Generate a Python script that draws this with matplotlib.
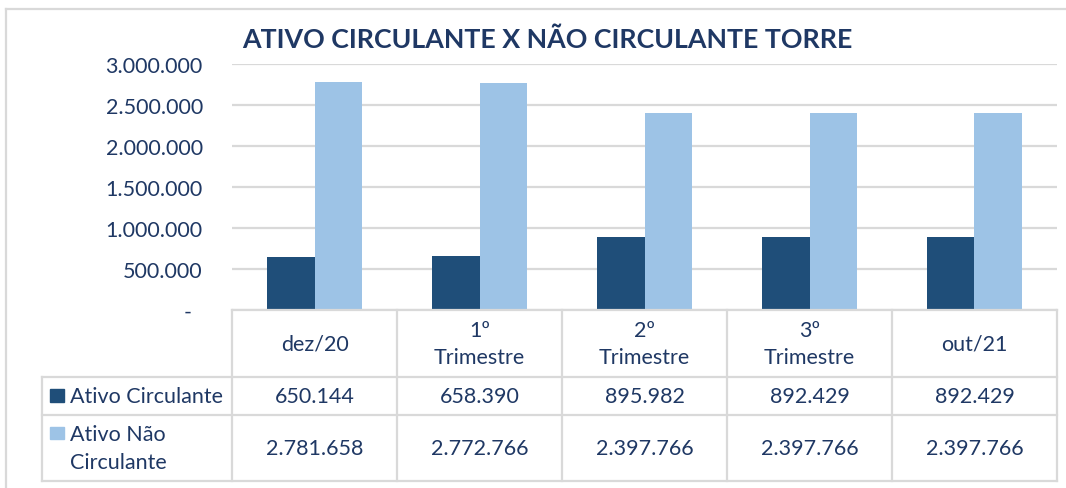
import numpy as np
import matplotlib
matplotlib.use("Agg")
import matplotlib.pyplot as plt
from matplotlib.lines import Line2D
from matplotlib.patches import Rectangle
from matplotlib.ticker import FuncFormatter

plt.rcParams['font.family'] = ['Lato', 'DejaVu Sans']

# dados
categorias = ["dez/20", "1º\nTrimestre", "2º\nTrimestre", "3º\nTrimestre", "out/21"]
series = ["Ativo Circulante", "Ativo Não\nCirculante"]
ativo_circulante = [650144, 658390, 895982, 892429, 892429]
ativo_nao_circulante = [2781658, 2772766, 2397766, 2397766, 2397766]
titulo = "ATIVO CIRCULANTE X NÃO CIRCULANTE TORRE"

cor_escura = "#1F4E79"
cor_clara = "#9DC3E6"
cor_texto = "#1F3864"
cor_grade = "#D9D9D9"

W, H = 1066, 489
fig = plt.figure(figsize=(W / 100, H / 100), dpi=100)
fig.patch.set_facecolor("white")


def fx(px):
    return px / W


def fy(py):
    return 1 - py / H


# area do grafico em pixels
x0, x1 = 232, 1057
y_top, y_zero = 65, 311
ax = fig.add_axes([fx(x0), fy(y_zero), fx(x1) - fx(x0), fy(y_top) - fy(y_zero)])

n = len(categorias)
x = np.arange(n)
larg = 0.29
ax.bar(x - larg / 2, ativo_circulante, width=larg, color=cor_escura, zorder=3)
ax.bar(x + larg / 2, ativo_nao_circulante, width=larg, color=cor_clara, zorder=3)

ax.set_xlim(-0.5, n - 0.5)
ax.set_ylim(0, 3000000)
ax.set_yticks(np.arange(0, 3000001, 500000))

fs = 15.5


def formata(v, pos):
    if v == 0:
        return "-  "
    return f"{int(v):,}".replace(",", ".")


ax.yaxis.set_major_formatter(FuncFormatter(formata))
ax.tick_params(axis="y", length=0, pad=21, labelsize=fs, labelcolor=cor_texto)
ax.tick_params(axis="x", length=0, labelbottom=False)
ax.grid(axis="y", color=cor_grade, linewidth=1.6, zorder=0)
for s in ax.spines.values():
    s.set_visible(False)

# moldura externa
fig.add_artist(Line2D([fx(6), fx(6)], [fy(10), fy(489)], color=cor_grade, lw=1.6))
fig.add_artist(Line2D([fx(6), fx(1066)], [fy(10), fy(10)], color=cor_grade, lw=1.6))

# titulo
fig.text(fx(547), fy(40), titulo, ha="center", va="center", fontsize=19.3,
         fontweight="bold", color=cor_texto)

# tabela de dados
col_x = [x0 + i * (x1 - x0) / n for i in range(n + 1)]
row_y = [311, 378, 416, 482]
lab_x = 42


def linha(xa, ya, xb, yb):
    fig.add_artist(Line2D([fx(xa), fx(xb)], [fy(ya), fy(yb)], color=cor_grade, lw=1.6))


linha(x0, row_y[0], x1, row_y[0])
for yy in row_y[1:]:
    linha(lab_x, yy, x1, yy)
linha(lab_x, row_y[1], lab_x, row_y[3])
for cx in col_x:
    linha(cx, row_y[0], cx, row_y[3])

for i, cat in enumerate(categorias):
    cx = (col_x[i] + col_x[i + 1]) / 2
    fig.text(fx(cx), fy((row_y[0] + row_y[1]) / 2), cat, ha="center", va="center",
             fontsize=fs, color=cor_texto, linespacing=1.45)
    fig.text(fx(cx), fy((row_y[1] + row_y[2]) / 2),
             f"{ativo_circulante[i]:,}".replace(",", "."), ha="center", va="center",
             fontsize=fs, color=cor_texto)
    fig.text(fx(cx), fy((row_y[2] + row_y[3]) / 2),
             f"{ativo_nao_circulante[i]:,}".replace(",", "."), ha="center", va="center",
             fontsize=fs, color=cor_texto)

# legenda dentro da tabela
fig.add_artist(Rectangle((fx(50), fy(403)), fx(14), fy(390) - fy(403),
                         color=cor_escura, transform=fig.transFigure))
fig.text(fx(70), fy(397), series[0], ha="left", va="center", fontsize=fs, color=cor_texto)
fig.add_artist(Rectangle((fx(50), fy(440)), fx(14), fy(428) - fy(440),
                         color=cor_clara, transform=fig.transFigure))
fig.text(fx(70), fy(449), series[1], ha="left", va="center", fontsize=fs,
         color=cor_texto, linespacing=1.45)

fig.savefig("out.png", dpi=100)
